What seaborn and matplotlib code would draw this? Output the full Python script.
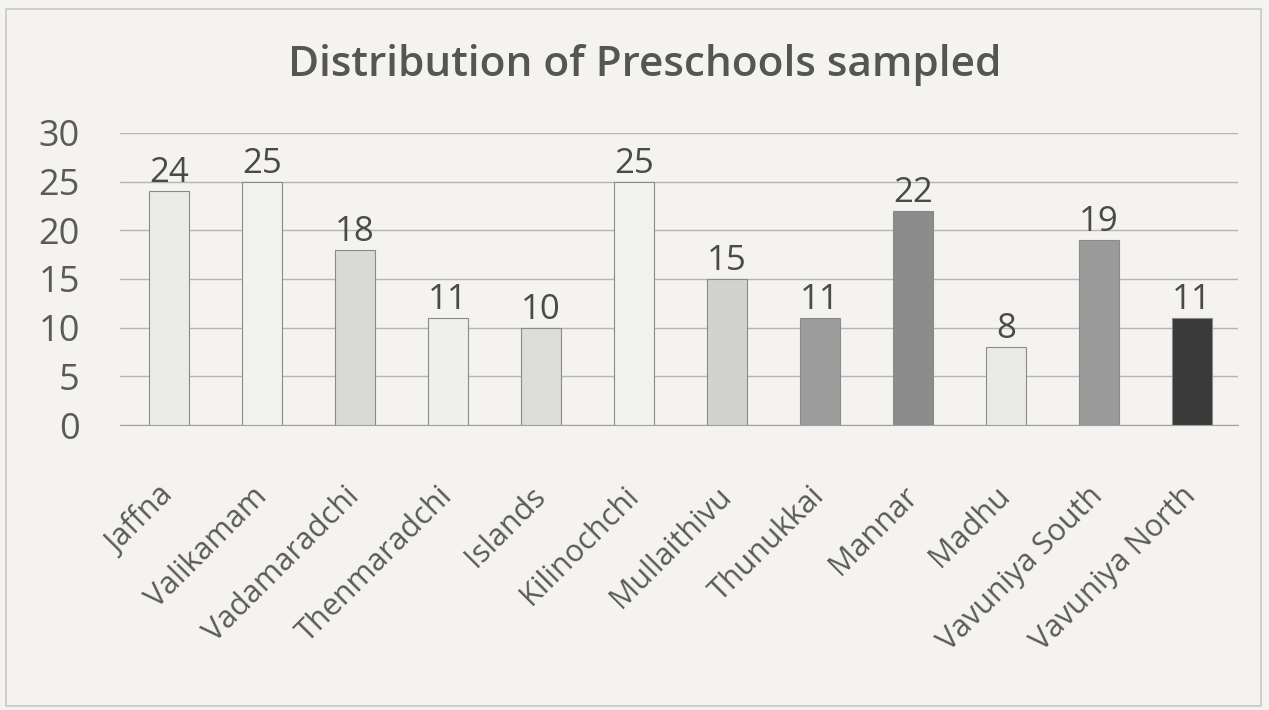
import matplotlib
matplotlib.use("Agg")
import matplotlib.pyplot as plt
import seaborn as sns
import pandas as pd
from matplotlib.patches import Rectangle

# data
districts = ["Jaffna", "Valikamam", "Vadamaradchi", "Thenmaradchi", "Islands", "Kilinochchi",
             "Mullaithivu", "Thunukkai", "Mannar", "Madhu", "Vavuniya South", "Vavuniya North"]
preschools = [24, 25, 18, 11, 10, 25, 15, 11, 22, 8, 19, 11]
bar_colors = ["#ebebea", "#f1f1f0", "#d9d9d8", "#efefee", "#dcdcdb", "#f1f1f0",
              "#d2d2d1", "#9c9c9c", "#8c8c8c", "#e9e9e8", "#9a9a9a", "#3a3a3a"]

df = pd.DataFrame({"district": districts, "n": preschools})

sns.set_style("white")
plt.rcParams["font.family"] = ["Open Sans", "DejaVu Sans"]

bg = "#f5f3f0"
fig = plt.figure(figsize=(12.69, 7.10), dpi=100, facecolor=bg)
ax = fig.add_axes([0.0946, 0.4014, 0.881, 0.4113])
ax.set_facecolor(bg)

sns.barplot(data=df, x="district", y="n", hue="district", palette=bar_colors,
            legend=False, width=0.43, edgecolor="#8a8a8a", linewidth=0.8, ax=ax, zorder=3)

ax.set_ylim(0, 30)
ax.set_xlim(-0.53, 11.5)
ax.set_yticks(range(0, 31, 5))
ax.yaxis.grid(True, color="#b5b5b5", linewidth=1.0, zorder=0)
ax.set_axisbelow(True)
for s in ["top", "right", "left"]:
    ax.spines[s].set_visible(False)
ax.spines["bottom"].set_color("#a0a0a0")
ax.set_xlabel("")
ax.set_ylabel("")
ax.tick_params(axis="both", length=0, labelcolor="#5a5a5a")
ax.tick_params(axis="y", pad=29, labelsize=26)
ax.tick_params(axis="x", pad=48, labelsize=22)
plt.setp(ax.get_xticklabels(), rotation=45, ha="right", va="center", rotation_mode="anchor")

for i, v in enumerate(preschools):
    ax.text(i, v + 0.1, str(v), ha="center", va="bottom", fontsize=25, color="#4a4a4a", zorder=4)

fig.text(0.508, 0.908, "Distribution of Preschools sampled", ha="center", va="center",
         fontsize=30.5, fontweight="semibold", color="#555555")

fig.patches.append(Rectangle((0.005, 0.006), 0.989, 0.982, transform=fig.transFigure,
                             fill=False, edgecolor="#c8c8c8", linewidth=1.2))

fig.savefig("out.png", dpi=100, facecolor=bg)
